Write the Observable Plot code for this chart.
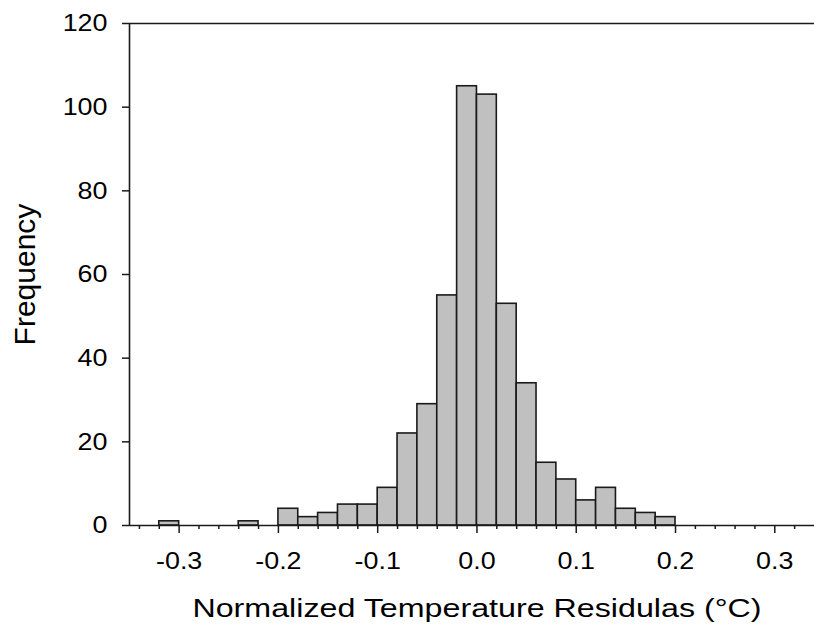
<!DOCTYPE html>
<html>
<head>
<meta charset="utf-8">
<script src="https://cdn.jsdelivr.net/npm/d3@7"></script>
<script src="https://cdn.jsdelivr.net/npm/@observablehq/plot@0.6"></script>
<style>
  html, body { margin: 0; padding: 0; background: #fff; }
</style>
</head>
<body>
<div id="chart"></div>
<script>
// Histogram bins (left edge, °C) and their frequencies
const binStart = [-0.32, -0.24, -0.20, -0.18, -0.16, -0.14, -0.12, -0.10, -0.08, -0.06, -0.04,
                  -0.02, 0.00, 0.02, 0.04, 0.06, 0.08, 0.10, 0.12, 0.14, 0.16, 0.18];
const counts   = [1, 1, 4, 2, 3, 5, 5, 9, 22, 29, 55,
                  105, 103, 53, 34, 15, 11, 6, 9, 4, 3, 2];
const binWidth = 0.02;

const xMajorTicks = [-0.3, -0.2, -0.1, 0.0, 0.1, 0.2, 0.3];
const xMinorTicks = [-0.34, -0.32, -0.28, -0.26, -0.24, -0.22, -0.18, -0.16, -0.14, -0.12,
                     -0.08, -0.06, -0.04, -0.02, 0.02, 0.04, 0.06, 0.08, 0.12, 0.14, 0.16, 0.18,
                     0.22, 0.24, 0.26, 0.28, 0.32];
const yTicks = [0, 20, 40, 60, 80, 100, 120];

const xLabel = "Normalized Temperature Residulas (°C)";
const yLabel = "Frequency";

const data = binStart.map((s, i) => ({x1: s, x2: +(s + binWidth).toFixed(2), count: counts[i]}));

const lineColor = "#1a1a1a";

const chart = Plot.plot({
  width: 814,
  height: 629,
  marginLeft: 129,
  marginTop: 23,
  marginBottom: 104,
  marginRight: 0,
  style: {
    fontFamily: "'Liberation Sans', Arial, sans-serif",
    fontSize: "24px",
    color: "#000",
    background: "#fff",
    overflow: "visible"
  },
  x: {domain: [-0.35, 0.34]},
  y: {domain: [0, 120]},
  marks: [
    Plot.rectY(data, {x1: "x1", x2: "x2", y: "count", fill: "#c0c0c0", stroke: lineColor, strokeWidth: 1.6}),
    Plot.ruleY([0], {stroke: lineColor, strokeWidth: 1.6}),
    Plot.ruleY([120], {stroke: lineColor, strokeWidth: 1.6}),
    Plot.ruleX([-0.35], {stroke: lineColor, strokeWidth: 1.6}),
    Plot.axisX({ticks: xMinorTicks, tickSize: 4, fill: "none", label: null, stroke: lineColor, strokeWidth: 1.5}),
    Plot.axisX({ticks: xMajorTicks, tickSize: 8, tickPadding: 18, label: null,
                tickFormat: d => d.toFixed(1), stroke: lineColor, strokeWidth: 1.5}),
    Plot.axisY({ticks: yTicks, tickSize: 7, tickPadding: 15, label: null,
                tickFormat: d => String(d), stroke: lineColor, strokeWidth: 1.5}),
    Plot.text([xLabel], {frameAnchor: "bottom", dx: 5, dy: 83, lineAnchor: "middle",
                         textAnchor: "middle", fontSize: 26, fill: "#000"}),
    Plot.text([yLabel], {frameAnchor: "left", dx: -104, rotate: -90, lineAnchor: "middle",
                         textAnchor: "middle", fontSize: 30, fill: "#000"})
  ]
});

// Widen horizontal texts slightly to match the reference's glyph proportions
d3.select(chart).selectAll("text").each(function () {
  const t = this.textContent;
  if (t === yLabel) return;
  const k = t === xLabel ? 1.24 : 1.12;
  const tr = this.getAttribute("transform");
  if (tr) {
    this.setAttribute("transform", tr + ` scale(${k},1)`);
  } else {
    const x = +(this.getAttribute("x") || 0), y = +(this.getAttribute("y") || 0);
    this.setAttribute("transform", `translate(${x},${y}) scale(${k},1) translate(${-x},${-y})`);
  }
});

document.getElementById("chart").appendChild(chart);
</script>
</body>
</html>
